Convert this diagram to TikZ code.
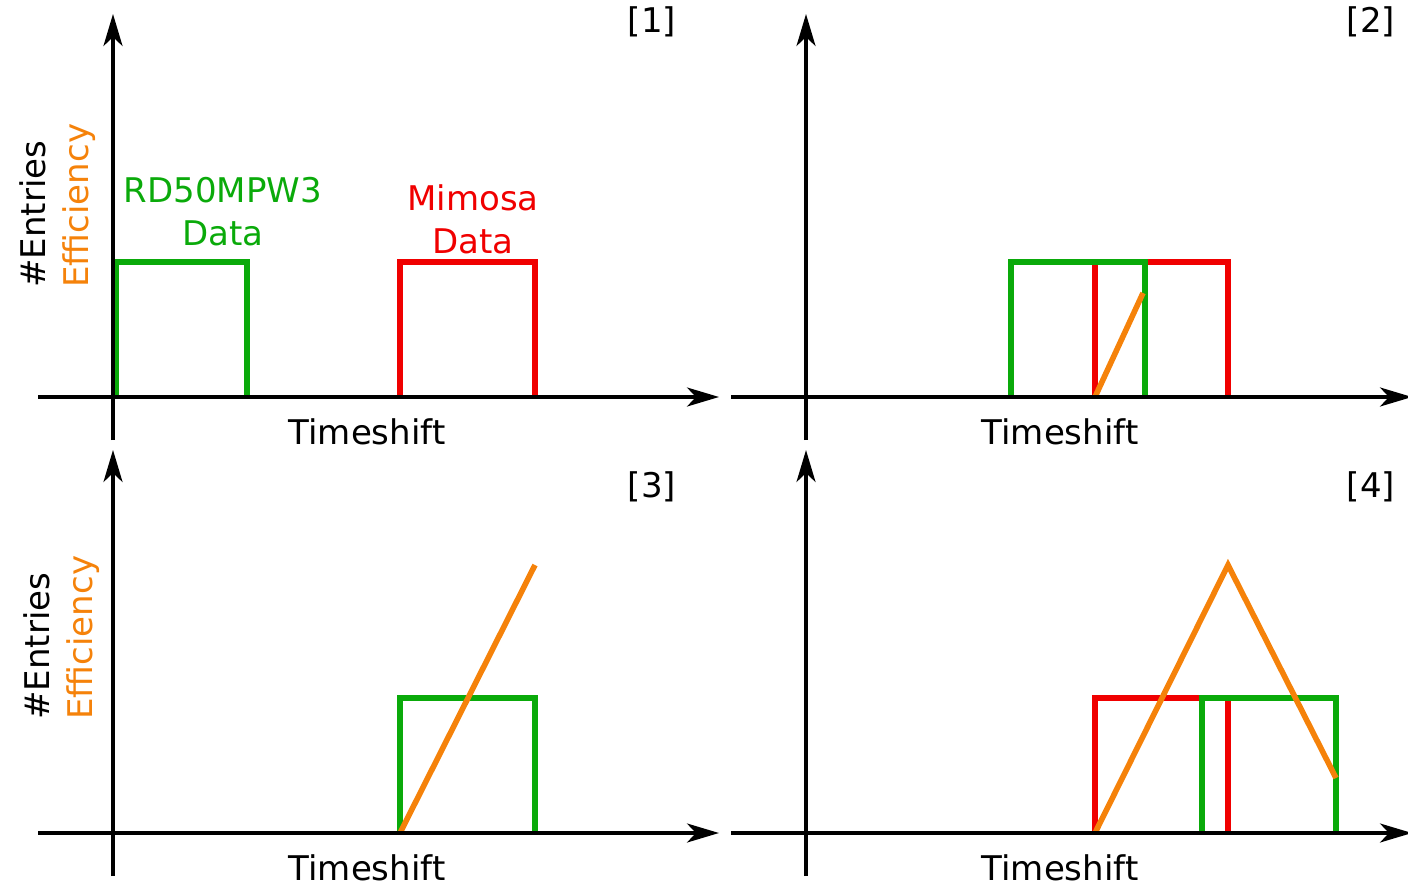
\documentclass[tikz,border=0pt]{standalone}
\usepackage{fontspec}
\setmainfont{DejaVu Sans}
\usetikzlibrary{arrows.meta}
\definecolor{rdgreen}{RGB}{10,170,10}
\definecolor{mimred}{RGB}{240,0,0}
\definecolor{effor}{RGB}{245,130,10}
\tikzset{axis/.style={line width=1.7pt,-{Stealth[length=16pt,width=9.5pt,inset=4.5pt]}},
  rd50/.style={draw=rdgreen,line width=2.8pt},
  mimosa/.style={draw=mimred,line width=2.8pt},
  eff/.style={draw=effor,line width=2.8pt},
  lbl/.style={inner sep=0pt,font=\fontsize{17}{21.5}\selectfont}}

\begin{document}
\begin{tikzpicture}[x=0.5pt,y=-0.5pt]
  \useasboundingbox (0,0) rectangle (1408,884);
  % [1] separate data
  \draw[rd50] (116,397) -- (116,262) -- (247,262) -- (247,397);
  \draw[mimosa] (400,397) -- (400,262) -- (535,262) -- (535,397);
  \node[lbl,text=rdgreen,align=center] (rdlbl) at (223,212) {RD50MPW3\\Data};
  \node[lbl,text=mimred,align=center] (mimlbl) at (473,219) {Mimosa\\Data};
  % [2] partial overlap
  \draw[mimosa] (1095,397) -- (1095,262) -- (1228,262) -- (1228,397);
  \draw[rd50] (1011,397) -- (1011,262) -- (1145,262) -- (1145,397);
  \draw[eff] (1095,397) -- (1143,293);
  % [3] full overlap
  \draw[rd50] (400,833) -- (400,698) -- (535,698) -- (535,833);
  \draw[eff] (400,833) -- (535,565);
  % [4] shifted past
  \draw[mimosa] (1095,833) -- (1095,698) -- (1228,698) -- (1228,833);
  \draw[rd50] (1202,833) -- (1202,698) -- (1336,698) -- (1336,833);
  \draw[eff] (1095,833) -- (1228,565) -- (1336,778);
  % axes
  \foreach \n/\ox/\oy in {1/113/397,2/806/397,3/113/833,4/806/833}{
    \coordinate (xs\n) at (\ox-75,\oy);
    \coordinate (xe\n) at (\ox+606,\oy);
    \coordinate (ys\n) at (\ox,\oy+43);
    \coordinate (ye\n) at (\ox,\oy-383);
    \draw[axis] (xs\n) -- (xe\n);
    \draw[axis] (ys\n) -- (ye\n);
    \node[lbl] (ts\n) at (\ox+254,\oy+35) {Timeshift};
  }
  \node[lbl] (p1) at (652,22) {[1]};
  \node[lbl] (p2) at (1371,22) {[2]};
  \node[lbl] (p3) at (652,487) {[3]};
  \node[lbl] (p4) at (1371,487) {[4]};
  \node[lbl,rotate=90,anchor=west,align=left] (yl1) at (58,288) {\#Entries\\\textcolor{effor}{Efficiency}};
  \node[lbl,rotate=90,anchor=west,align=left] (yl3) at (62,720) {\#Entries\\\textcolor{effor}{Efficiency}};
\end{tikzpicture}
\end{document}
